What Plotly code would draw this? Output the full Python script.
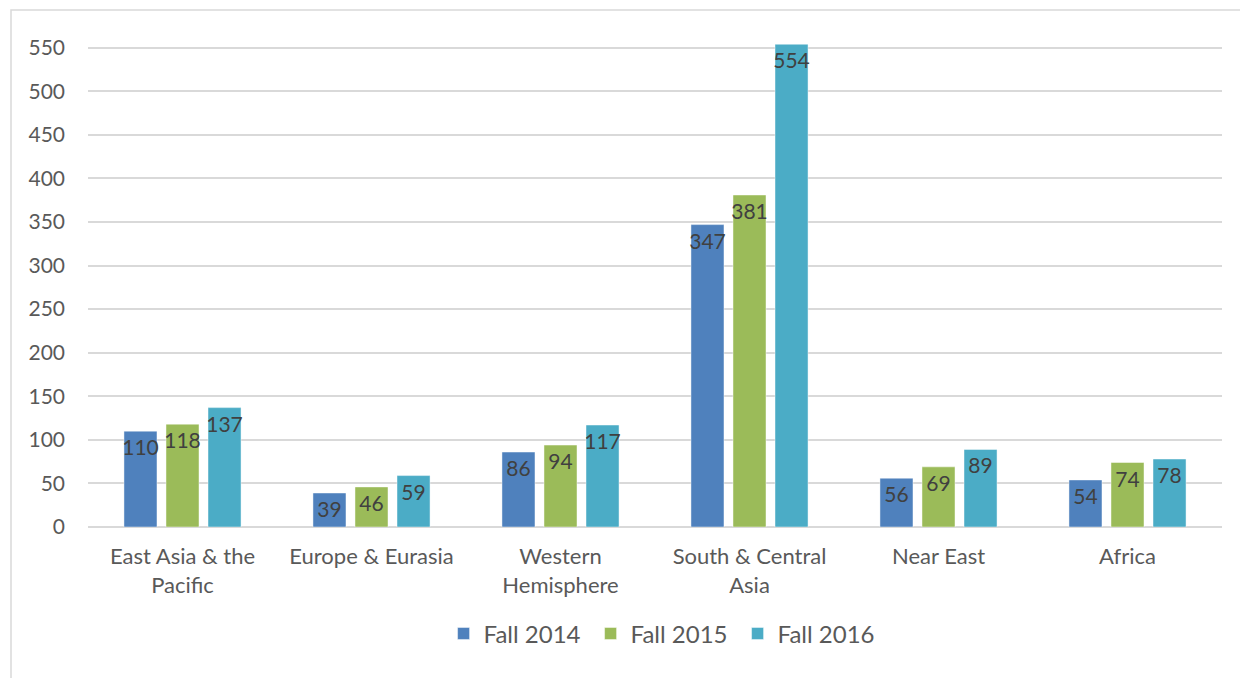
import plotly.graph_objects as go

categories = ["East Asia & the<br>Pacific", "Europe & Eurasia", "Western<br>Hemisphere",
              "South & Central<br>Asia", "Near East", "Africa"]
fall_2014 = [110, 39, 86, 347, 56, 54]
fall_2015 = [118, 46, 94, 381, 69, 74]
fall_2016 = [137, 59, 117, 554, 89, 78]
series_names = ["Fall 2014", "Fall 2015", "Fall 2016"]
colors = ["#4F81BD", "#9BBB59", "#4BACC6"]

FONT = "Lato"
fig = go.Figure()
for name, vals, col in zip(series_names, [fall_2014, fall_2015, fall_2016], colors):
    fig.add_trace(go.Bar(
        name=name, x=categories, y=vals,
        marker=dict(color=col, line=dict(color="rgba(255,255,255,0.45)", width=1)),
        text=vals, textposition="inside", insidetextanchor="end", constraintext="none",
        textfont=dict(family=FONT, size=21, color="#404040"), textangle=0,
    ))

fig.update_layout(
    width=1240, height=670,
    margin=dict(l=80, r=26, t=31, b=151),
    plot_bgcolor="white", paper_bgcolor="white",
    barmode="group", bargap=0.333, bargroupgap=0.214,
    font=dict(family=FONT, color="#595959"),
    showlegend=True,
    legend=dict(orientation="h", x=0.508, xanchor="center", y=-0.219, yanchor="middle",
                font=dict(family=FONT, size=24, color="#595959"),
                entrywidth=102, entrywidthmode="pixels", traceorder="normal"),
    shapes=[dict(type="rect", xref="paper", yref="paper", x0=-0.0679, x1=1.2, y0=-0.6, y1=1.0594,
                 line=dict(color="#D9D9D9", width=1.5), fillcolor="rgba(0,0,0,0)", layer="below")],
)
fig.update_yaxes(range=[0, 560], dtick=50, showgrid=True, gridcolor="#D9D9D9", gridwidth=1.5,
                 zeroline=True, zerolinecolor="#D9D9D9", zerolinewidth=1.5, showline=False,
                 tickfont=dict(family=FONT, size=21, color="#595959"), ticks="", ticklabelstandoff=22)
fig.update_xaxes(showline=False, ticks="", ticklabelstandoff=14,
                 tickfont=dict(family=FONT, size=22, color="#595959"))

fig.write_html("out.html")
